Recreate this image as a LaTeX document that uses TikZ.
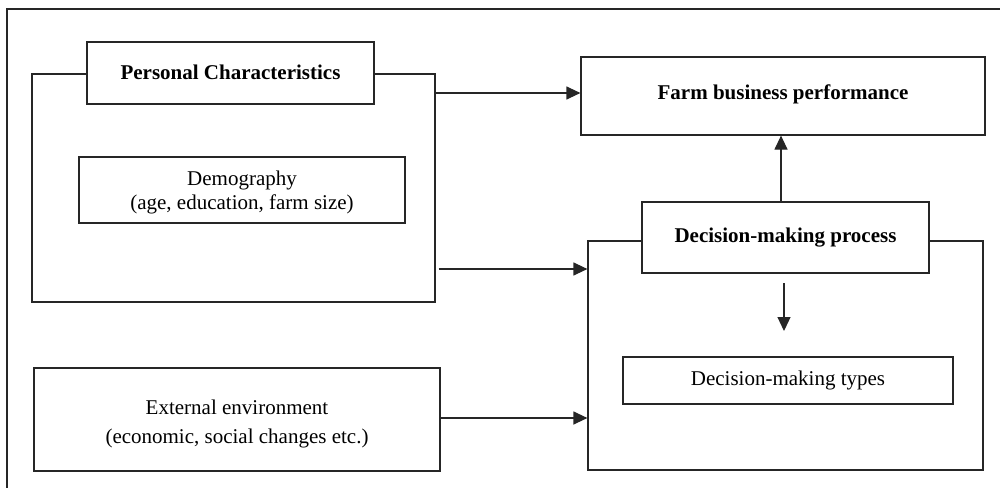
\documentclass[tikz,border=0pt]{standalone}
\usepackage{fontspec}
\setmainfont{Liberation Serif}
\usetikzlibrary{arrows.meta,calc}
\begin{document}
\begin{tikzpicture}[x=1pt,y=-1pt,
  line width=1.2pt, draw=black!85,
  box/.style={draw=black!85, fill=white, rectangle, inner sep=0pt, align=center,
     font=\fontsize{21}{25}\selectfont},
  boldbox/.style={box, font=\fontsize{21}{25}\selectfont\bfseries},
  arr/.style={-{Triangle[length=14pt,width=13pt]}, draw=black!85, line width=1.2pt}]
\useasboundingbox (0,0) rectangle (1000,487);
% outer frame
\draw[black!85] (7,9) rectangle (1020,510);
% personal characteristics group
\node[box, minimum width=403pt, minimum height=228pt] (pc) at (233.5,188) {};
\node[boldbox, minimum width=287pt, minimum height=62pt] (pct) at (230.5,73) {\raisebox{1pt}[\height][\depth]{Personal Characteristics}};
\node[box, minimum width=326pt, minimum height=66pt] (demo) at (242,190) {\raisebox{-2.5pt}[\height][\depth]{\shortstack{Demography\\[1pt](age, education, farm size)}}};
% external environment
\node[box, minimum width=406pt, minimum height=103pt, font=\fontsize{21}{28}\selectfont] (ext) at (237,419.5) {\raisebox{-3.5pt}[\height][\depth]{\begin{tabular}{@{}c@{}}External environment\\[1pt](economic, social changes etc.)\end{tabular}}};
% farm business performance
\node[boldbox, minimum width=404pt, minimum height=78pt] (farm) at (783,96) {\raisebox{2pt}[\height][\depth]{Farm business performance}};
% decision-making group
\node[box, minimum width=395pt, minimum height=229pt] (dm) at (785.5,355.5) {};
\node[boldbox, minimum width=287pt, minimum height=71pt] (dmt) at (785.5,237.5) {Decision-making process};
\node[box, minimum width=330pt, minimum height=47pt] (types) at (788,380.5) {Decision-making types};
\coordinate (dnstart) at (784,283);
\coordinate (dnend) at (784,331);
% connectors
\draw[arr] (pc.east |- 0,93) -- (farm.west |- 0,93);
\draw[arr] ($(pc.east |- 0,269)+(3,0)$) -- (dm.west |- 0,269);
\draw[arr] (ext.east |- 0,418) -- (dm.west |- 0,418);
\draw[arr] (dmt.north -| 781,0) -- (farm.south -| 781,0);
\draw[arr] (dnstart) -- (dnend);
\end{tikzpicture}
\end{document}
